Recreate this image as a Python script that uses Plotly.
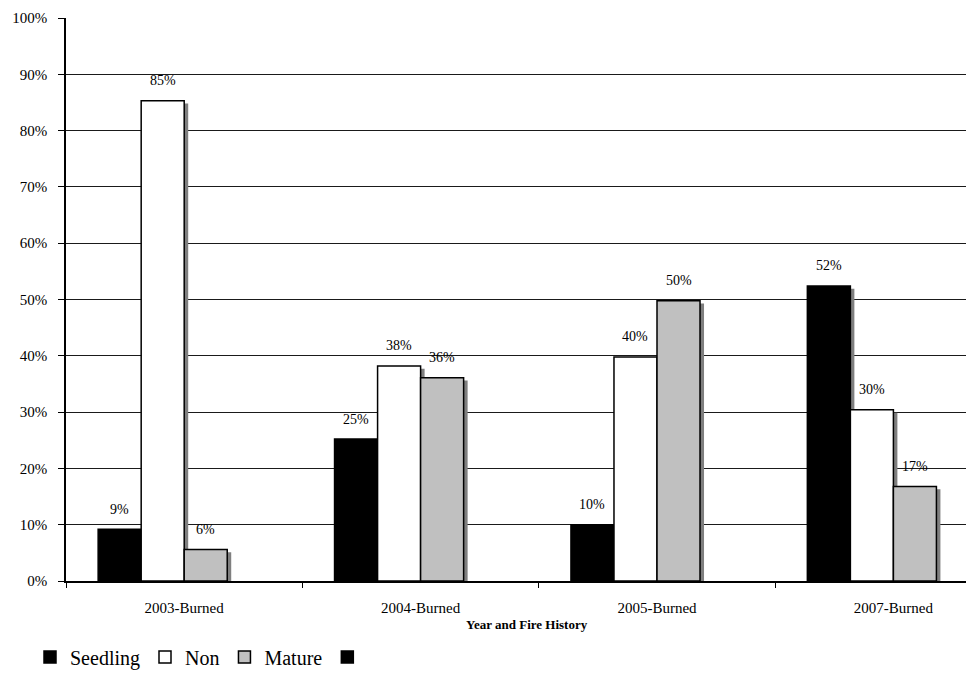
import plotly.graph_objects as go

# Share of each stand class by year of burn
categories = ["2003-Burned", "2004-Burned", "2005-Burned", "2007-Burned"]
series_names = ["Seedling", "Non", "Mature", " "]
seedling = [9.2, 25.2, 10.0, 52.4]
non = [85.3, 38.2, 39.8, 30.4]
mature = [5.6, 36.1, 49.8, 16.8]
blank = [None, None, None, None]
y_ticks = [0, 10, 20, 30, 40, 50, 60, 70, 80, 90, 100]

values = [seedling, non, mature, blank]
fills = ["#000000", "#FFFFFF", "#C0C0C0", "#000000"]

SERIF = "Liberation Serif"

# geometry of the grouped bars (in category units)
BAR_W = 0.182
GROUP_START = -0.364
PLOT_W = 900             # pixel width of the plot area
CAT_PX = 236.4           # pixel width of one category
SHADOW_DX = 4 / CAT_PX   # drop shadow offset to the right
SHADOW_DY = 0.5          # drop shadow offset downward (in %)

fig = go.Figure()

# drop shadows first so the bars sit on top of them
for i, vals in enumerate(values):
    if all(v is None for v in vals):
        continue
    fig.add_trace(go.Bar(
        x=categories,
        y=[v - SHADOW_DY for v in vals],
        offset=GROUP_START + i * BAR_W + SHADOW_DX,
        width=BAR_W,
        marker=dict(color="#7F7F7F", line=dict(width=0)),
        showlegend=False,
        hoverinfo="skip",
    ))

for i, (name, vals, col) in enumerate(zip(series_names, values, fills)):
    fig.add_trace(go.Bar(
        x=categories,
        y=vals,
        name=name,
        offset=GROUP_START + i * BAR_W,
        width=BAR_W,
        marker=dict(color=col, line=dict(color="#000000", width=1.5)),
    ))

# value labels above each bar
annotations = []
for i, vals in enumerate(values):
    for c, v in enumerate(vals):
        if v is None:
            continue
        annotations.append(dict(
            x=c + GROUP_START + (i + 0.5) * BAR_W,
            y=v,
            xref="x", yref="y",
            text=f"{round(v)}%",
            showarrow=False,
            yanchor="middle",
            yshift=20,
            font=dict(family=SERIF, size=14, color="#000000"),
        ))

# axis title, placed in pixels below the plot area
annotations.append(dict(
    x=(527 - 66) / PLOT_W, y=0, xref="paper", yref="paper",
    yshift=-43,
    text="<b>Year and Fire History</b>", showarrow=False,
    yanchor="middle", xanchor="center",
    font=dict(family=SERIF, size=13, color="#000000"),
))

fig.update_layout(
    barmode="overlay",
    width=966, height=694,
    margin=dict(l=66, r=0, t=18, b=113),
    paper_bgcolor="#FFFFFF",
    plot_bgcolor="#FFFFFF",
    font=dict(family=SERIF, color="#000000"),
    annotations=annotations,
    showlegend=True,
    legend=dict(
        orientation="h",
        x=-36 / PLOT_W, y=-0.135,
        xanchor="left", yanchor="middle",
        font=dict(family=SERIF, size=20, color="#000000"),
        itemwidth=30,
        tracegroupgap=0,
        bgcolor="rgba(0,0,0,0)",
    ),
    xaxis=dict(
        type="category",
        range=[-0.5, -0.5 + PLOT_W / CAT_PX],
        showline=True, linecolor="#000000", linewidth=1.5,
        ticks="outside", ticklen=5, tickcolor="#000000", tickwidth=1,
        tickson="boundaries",
        showgrid=False,
        tickfont=dict(family=SERIF, size=15, color="#000000"),
        ticklabelstandoff=12,
        fixedrange=True,
    ),
    yaxis=dict(
        range=[0, 100],
        tickvals=y_ticks,
        ticktext=[f"{t}%" for t in y_ticks],
        showline=True, linecolor="#000000", linewidth=1.5,
        ticks="outside", ticklen=6, tickcolor="#000000", tickwidth=1,
        showgrid=True, gridcolor="#1A1A1A", gridwidth=1,
        zeroline=False,
        tickfont=dict(family=SERIF, size=15, color="#000000"),
        ticklabelstandoff=8,
        fixedrange=True,
    ),
)

fig.write_html("out.html")
